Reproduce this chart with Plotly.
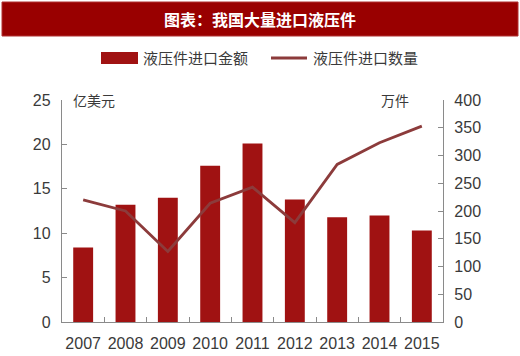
import plotly.graph_objects as go

years = ["2007", "2008", "2009", "2010", "2011", "2012", "2013", "2014", "2015"]
amount = [8.4, 13.2, 14.0, 17.6, 20.1, 13.8, 11.8, 12.0, 10.3]      # 亿美元
quantity = [220, 200, 127, 214, 243, 179, 284, 323, 353]            # 万件

left_ticks = [0, 5, 10, 15, 20, 25]
right_ticks = [0, 50, 100, 150, 200, 250, 300, 350, 400]

title_text = "图表：我国大量进口液压件"
legend_bar = "液压件进口金额"
legend_line = "液压件进口数量"
unit_left = "亿美元"
unit_right = "万件"

BAR = "#A01212"
LINE = "#8C3B3B"
AXIS = "#8A8A8A"
TXT = "#3A3A3A"

W, H = 520, 356
L, R, T, B = 62, 443, 100, 322

def px(x):
    return (x - L) / (R - L)

def py(y):
    return (B - y) / (B - T)

fig = go.Figure()
fig.add_trace(go.Bar(x=years, y=amount, marker=dict(color=BAR, line=dict(width=0)),
                     width=0.47, showlegend=False, yaxis="y"))
fig.add_trace(go.Scatter(x=years, y=quantity, mode="lines", line=dict(color=LINE, width=2.8),
                         showlegend=False, yaxis="y2"))

font = "Liberation Sans Narrow, Arial Narrow, Liberation Sans, Arial, sans-serif"
cjk = "Noto Sans CJK SC, sans-serif"

fig.update_layout(
    width=W, height=H,
    margin=dict(l=L, r=W - R, t=T, b=H - B),
    paper_bgcolor="white", plot_bgcolor="white",
    bargap=0.53,
    xaxis=dict(type="category", showline=True, linecolor=AXIS, linewidth=1.3,
               ticks="inside", tickson="boundaries", ticklen=5, tickcolor=AXIS,
               showgrid=False, tickfont=dict(family=font, size=16, color=TXT),
               tickangle=0, automargin=False, ticklabelstandoff=7),
    yaxis=dict(range=[0, 25], tickvals=left_ticks, showline=True, linecolor=AXIS,
               linewidth=1.3, ticks="inside", ticklen=5, tickcolor=AXIS,
               showgrid=False, zeroline=False, automargin=False,
               tickfont=dict(family=font, size=16, color=TXT), ticklabelstandoff=7),
    yaxis2=dict(range=[0, 400], tickvals=right_ticks, overlaying="y", side="right",
                showline=True, linecolor=AXIS, linewidth=1.3, ticks="inside",
                ticklen=5, tickcolor=AXIS, showgrid=False, zeroline=False, automargin=False,
                tickfont=dict(family=font, size=16, color=TXT), ticklabelstandoff=7),
)

shapes = [
    # title banner
    dict(type="rect", xref="paper", yref="paper", x0=px(2), x1=px(518), y0=py(36), y1=py(2),
         fillcolor="#990000", line=dict(color="#B03030", width=1), layer="above"),
    # legend swatches
    dict(type="rect", xref="paper", yref="paper", x0=px(101), x1=px(138), y0=py(64), y1=py(52),
         fillcolor=BAR, line=dict(width=0)),
    dict(type="line", xref="paper", yref="paper", x0=px(271), x1=px(307), y0=py(58), y1=py(58),
         line=dict(color=LINE, width=3)),
]

annotations = [
    dict(text="<b>" + title_text + "</b>", xref="paper", yref="paper", x=px(260), y=py(19),
         xanchor="center", yanchor="middle", showarrow=False,
         font=dict(family=cjk, size=16, color="white")),
    dict(text=legend_bar, xref="paper", yref="paper", x=px(141), y=py(58),
         xanchor="left", yanchor="middle", showarrow=False,
         font=dict(family=cjk, size=15, color=TXT)),
    dict(text=legend_line, xref="paper", yref="paper", x=px(311), y=py(58),
         xanchor="left", yanchor="middle", showarrow=False,
         font=dict(family=cjk, size=15, color=TXT)),
    dict(text=unit_left, xref="paper", yref="paper", x=px(71), y=py(100),
         xanchor="left", yanchor="middle", showarrow=False,
         font=dict(family=cjk, size=14, color=TXT)),
    dict(text=unit_right, xref="paper", yref="paper", x=px(411), y=py(100),
         xanchor="right", yanchor="middle", showarrow=False,
         font=dict(family=cjk, size=14, color=TXT)),
]

fig.update_layout(shapes=shapes, annotations=annotations)
fig.write_html("out.html", config={"displayModeBar": False},
               post_script="document.body.style.margin='0';document.body.style.overflow='hidden';")
